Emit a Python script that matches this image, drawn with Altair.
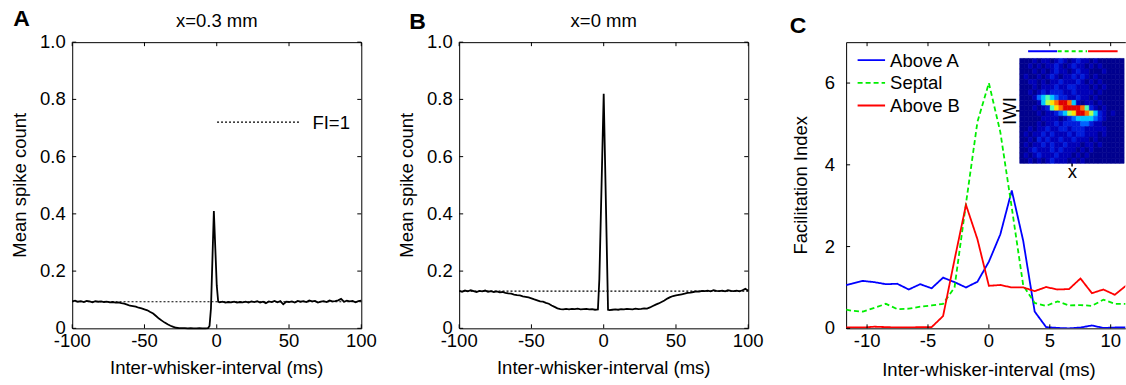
import altair as alt
import pandas as pd

FONT = "Liberation Sans"
FS = 18.5

# ---------------- data ----------------
A_x = list(range(-100, -6, 2)) + [-6, -5, -4, -3, -2, -1, 0, 1] + list(range(2, 101, 2))
A_y = ([0.094, 0.097, 0.093, 0.095, 0.092, 0.096, 0.094, 0.091, 0.095, 0.093, 0.094, 0.092,
        0.093, 0.091, 0.092, 0.090]
       + [0.091, 0.088, 0.086, 0.083, 0.079, 0.078, 0.076, 0.072, 0.070, 0.066, 0.063, 0.057,
          0.052, 0.043, 0.034, 0.027, 0.020, 0.014, 0.009, 0.005, 0.002, 0.001, 0.001, 0.001,
          0.000, 0.001, 0.000, 0.000, 0.001, 0.000, 0.000]
       + [0.001, 0.008, 0.07, 0.24, 0.41, 0.28, 0.15, 0.093]
       + [0.091, 0.093, 0.090, 0.092, 0.091, 0.093, 0.090, 0.092, 0.091, 0.093, 0.090, 0.094,
          0.092, 0.095, 0.090, 0.093, 0.088, 0.094, 0.092, 0.096, 0.091, 0.095, 0.084, 0.093,
          0.092, 0.094, 0.090, 0.096, 0.093, 0.095, 0.092, 0.097, 0.094, 0.096, 0.090, 0.093,
          0.095, 0.092, 0.097, 0.094, 0.095, 0.098, 0.103, 0.093, 0.097, 0.094, 0.096, 0.091,
          0.095, 0.097])
A_fi = 0.093

B_x = list(range(-100, -4, 2)) + [-4, -3, -2, -1, 0, 1, 2, 3] + list(range(4, 101, 2))
B_y = ([0.131, 0.128, 0.132, 0.129, 0.133, 0.130, 0.127, 0.131, 0.129, 0.132, 0.128, 0.130,
        0.127, 0.129, 0.126, 0.127]
       + [0.124, 0.122, 0.121, 0.118, 0.116, 0.115, 0.112, 0.110, 0.108, 0.105, 0.101, 0.098,
          0.094, 0.093, 0.089, 0.086, 0.080, 0.075, 0.070, 0.067, 0.066, 0.068, 0.066, 0.068,
          0.067, 0.069, 0.066, 0.067, 0.068, 0.066, 0.067, 0.065]
       + [0.066, 0.173, 0.389, 0.604, 0.82, 0.568, 0.317, 0.065]
       + [0.064, 0.065, 0.066, 0.065, 0.067, 0.066, 0.068, 0.067, 0.066, 0.069, 0.067, 0.068,
          0.070, 0.069, 0.073, 0.078, 0.083, 0.087, 0.092, 0.097, 0.104, 0.109, 0.113, 0.115,
          0.117, 0.119, 0.121, 0.124, 0.125, 0.127, 0.129, 0.128, 0.131, 0.130, 0.132, 0.129,
          0.133, 0.131, 0.130, 0.132, 0.129, 0.133, 0.131, 0.130, 0.132, 0.129, 0.133, 0.138,
          0.131])
B_fi = 0.13

# panel C: vertex positions (ms)
C_x = [-11.72, -11.28, -10.34, -9.40, -8.46, -7.52, -6.58, -5.64, -4.70, -3.76, -2.82, -1.88,
       -0.94, 0.0, 0.94, 1.88, 2.82, 3.76, 4.70, 5.64, 6.58, 7.52, 8.46, 9.40, 10.34, 11.28]
C_above_a = [1.06, 1.09, 1.16, 1.13, 1.08, 1.09, 0.95, 1.08, 0.98, 1.24, 1.13, 1.00, 1.14,
             1.63, 2.30, 3.37, 2.14, 0.41, 0.03, 0.01, 0.00, 0.02, 0.07, 0.01, 0.02, 0.02]
C_septal = [0.46, 0.43, 0.41, 0.50, 0.60, 0.47, 0.48, 0.53, 0.56, 0.60, 1.00, 3.05, 5.05,
            6.00, 4.80, 2.95, 1.05, 0.62, 0.55, 0.66, 0.56, 0.57, 0.55, 0.70, 0.60, 0.60]
C_above_b = [0.02, 0.02, 0.02, 0.04, 0.03, 0.02, 0.02, 0.03, 0.03, 0.30, 1.68, 3.02, 2.18,
             1.04, 1.06, 1.00, 1.00, 0.91, 1.01, 0.95, 0.96, 1.22, 0.86, 0.95, 0.82, 1.05]
C_names = ["Above A", "Septal", "Above B"]

AB_xticks = [-100, -50, 0, 50, 100]
AB_yticks = [0, 0.2, 0.4, 0.6, 0.8, 1.0]
C_xticks = [-10, -5, 0, 5, 10]
C_yticks = [0, 2, 4, 6]

# inset image (IWI x position), intensity levels 0-9, one string per row (top to bottom)
heat_rows = [
    "000101101210121101000000",
    "001010112101211010100000",
    "000101012110121100010000",
    "010010121011212101000000",
    "001101011211121010100000",
    "000101112112211101010000",
    "001012122211211110100000",
    "000134543221121101000000",
    "000014678998410110100000",
    "000101257899998521010000",
    "000010112346799864210100",
    "000001111012344443210000",
    "000010112122223321100000",
    "001011211221222111110000",
    "010112121112122111010000",
    "001021211211211101000000",
    "010112121121110110100000",
    "001211121211101010000000",
    "010121112111010100000000",
    "001010121110101000000000",
]
heat_levels = list(range(10))

assert len(A_x) == len(A_y) and len(B_x) == len(B_y)
assert len(C_x) == len(C_above_a) == len(C_septal) == len(C_above_b)
assert all(len(r) == 24 for r in heat_rows)

# ---------------- styles ----------------
W_AB = 289.4
W_C = 279.5
H = 286.5
TK = 4
JET = ["#00008e", "#0000b8", "#001cdc", "#0064ff", "#00c8ff", "#50ffb0", "#b0ff50",
       "#ffe000", "#ff7000", "#e00000"]
C_COLORS = ["#0000ff", "#00ee00", "#ff0000"]
C_DASH = [[1, 0], [5, 3], [1, 0]]


def text_layer(s, x, y, size=FS, weight="normal", align="left", baseline="alphabetic", angle=0):
    kw = dict(font=FONT, fontSize=size, fontWeight=weight, align=align, baseline=baseline,
              color="black")
    if angle:
        kw["angle"] = angle
    return alt.Chart(pd.DataFrame({"s": [s]})).mark_text(**kw).encode(
        text="s:N", x=alt.value(x), y=alt.value(y))


def frame_layers(xsc, ysc, xt, xlab, yt, ylab, W, right, ylab_pad, ytitle, ytitle_x,
                 xlab_y, xtitle_x, xtitle_y):
    """Inward ticks, tick labels and axis titles (drawn through the panel scales)."""
    dx = pd.DataFrame({"t": xt, "lab": xlab})
    dy = pd.DataFrame({"t": yt, "lab": ylab})
    rule = dict(color="black", strokeWidth=1)
    layers = [
        alt.Chart(dx).mark_rule(**rule).encode(
            x=alt.X("t:Q", scale=xsc, axis=None), y=alt.value(H), y2=alt.value(H - TK)),
        alt.Chart(dx).mark_rule(**rule).encode(
            x=alt.X("t:Q", scale=xsc, axis=None), y=alt.value(0), y2=alt.value(TK)),
        alt.Chart(dy).mark_rule(**rule).encode(
            y=alt.Y("t:Q", scale=ysc, axis=None), x=alt.value(0), x2=alt.value(TK)),
        alt.Chart(dx).mark_text(font=FONT, fontSize=FS, align="center", baseline="alphabetic",
                                color="black").encode(
            x=alt.X("t:Q", scale=xsc, axis=None), y=alt.value(xlab_y), text="lab:N"),
        alt.Chart(dy).mark_text(font=FONT, fontSize=FS, align="right", baseline="middle",
                                color="black").encode(
            y=alt.Y("t:Q", scale=ysc, axis=None), x=alt.value(-ylab_pad), text="lab:N"),
        text_layer("Inter-whisker-interval (ms)", xtitle_x, xtitle_y, align="center"),
        text_layer(ytitle, ytitle_x, H / 2, align="center", angle=270),
    ]
    if right:
        layers.append(alt.Chart(dy).mark_rule(**rule).encode(
            y=alt.Y("t:Q", scale=ysc, axis=None), x=alt.value(W), x2=alt.value(W - TK)))
    return layers


AB_xlab = [str(v) for v in AB_xticks]
AB_ylab = ["0" if v == 0 else f"{v:.1f}" for v in AB_yticks]


def panel_ab(xs, ys, fi, title, let, lx, ly, fi_legend):
    xsc = alt.Scale(domain=[-100, 100], nice=False, zero=False)
    ysc = alt.Scale(domain=[0, 1], nice=False, zero=False)
    df = pd.DataFrame({"x": xs, "y": ys})
    line = alt.Chart(df).mark_line(color="black", strokeWidth=1.8).encode(
        x=alt.X("x:Q", scale=xsc, axis=None),
        y=alt.Y("y:Q", scale=ysc, axis=None))
    fi_rule = alt.Chart(pd.DataFrame({"fi": [fi]})).mark_rule(
        color="black", strokeDash=[2, 2], strokeWidth=1.2).encode(
        y=alt.Y("fi:Q", scale=ysc, axis=None))
    layers = [fi_rule, line] + frame_layers(
        xsc, ysc, AB_xticks, AB_xlab, AB_yticks, AB_ylab, W_AB, True, 6.5,
        "Mean spike count", -46, H + 19, W_AB / 2, H + 46)
    layers.append(text_layer(let, lx, ly, size=23, weight="bold"))
    layers.append(text_layer(title, W_AB / 2, -15.3, align="center"))
    if fi_legend:
        lg = pd.DataFrame({"s": ["FI=1"]})
        layers.append(alt.Chart(lg).mark_rule(color="black", strokeDash=[2, 2], strokeWidth=1.2)
                      .encode(x=alt.value(145), x2=alt.value(227), y=alt.value(80)))
        layers.append(text_layer("FI=1", 240.5, 80.5, baseline="middle"))
    return alt.layer(*layers).properties(
        width=W_AB, height=H, view=alt.ViewBackground(stroke="black", strokeWidth=1))


pa = panel_ab(A_x, A_y, A_fi, "x=0.3 mm", "A", -59, -16, True)
pb = panel_ab(B_x, B_y, B_fi, "x=0 mm", "B", -50, -12.7, False)

# ---------------- panel C ----------------
xsc_c = alt.Scale(domain=[-11.72, 11.2], nice=False, zero=False)
ysc_c = alt.Scale(domain=[0, 7], nice=False, zero=False)
c_layers = []
for i, (name, vals) in enumerate(zip(C_names, [C_above_a, C_septal, C_above_b])):
    d = pd.DataFrame({"x": C_x, "y": vals, "series": name})
    c_layers.append(alt.Chart(d).mark_line(color=C_COLORS[i], strokeDash=C_DASH[i],
                                           strokeWidth=1.8, clip=True).encode(
        x=alt.X("x:Q", scale=xsc_c, axis=None), y=alt.Y("y:Q", scale=ysc_c, axis=None)))
c_layers += frame_layers(xsc_c, ysc_c, C_xticks, [str(v) for v in C_xticks], C_yticks,
                         [str(v) for v in C_yticks], W_C, False, 11, "Facilitation Index",
                         -39.5, H + 19, 143, H + 48)
c_layers.append(text_layer("C", -56.5, -8.7, size=23, weight="bold"))

# legend
for i, name in enumerate(C_names):
    ld = pd.DataFrame({"s": [name]})
    yy = 18 + 22.7 * i
    c_layers.append(alt.Chart(ld).mark_rule(color=C_COLORS[i], strokeDash=C_DASH[i],
                                            strokeWidth=1.8)
                    .encode(x=alt.value(11.5), x2=alt.value(39), y=alt.value(yy)))
    c_layers.append(text_layer(name, 44, yy + 0.5, baseline="middle"))

# inset annotations: colour strip, IWI / x labels and their ticks
seg = [(182.2, 211.2), (211.8, 241.2), (242.2, 271.8)]
for i, (a, b) in enumerate(seg):
    c_layers.append(alt.Chart(pd.DataFrame({"s": [C_names[i]]})).mark_rule(
        color=C_COLORS[i], strokeDash=[4, 3] if i == 1 else [1, 0], strokeWidth=2)
        .encode(x=alt.value(a), x2=alt.value(b), y=alt.value(9)))
c_layers.append(text_layer("IWI", 164.5, 69, align="center", baseline="middle", angle=270))
c_layers.append(text_layer("x", 226.5, 136, align="center"))
c_layers.append(alt.Chart(pd.DataFrame({"s": ["IWI"]})).mark_rule(color="black", strokeWidth=1.5)
                .encode(x=alt.value(170), x2=alt.value(174), y=alt.value(68.8)))
c_layers.append(alt.Chart(pd.DataFrame({"s": ["x"]})).mark_rule(color="black", strokeWidth=1.5)
                .encode(x=alt.value(226.2), y=alt.value(121), y2=alt.value(124.5)))

main_c = alt.layer(*c_layers)

cells = []
for r, row in enumerate(heat_rows):
    for c, ch in enumerate(row):
        cells.append({"c": c, "c2": c + 1, "r": r, "r2": r + 1, "v": int(ch)})
heat_df = pd.DataFrame(cells)
heat_scale = alt.Scale(domain=heat_levels, range=JET)
heat = alt.Chart(heat_df).mark_rect(strokeWidth=0.6).encode(
    x=alt.X("c:Q", scale=alt.Scale(domain=[0, 24], range=[173.8, 278.3], nice=False, zero=False),
            axis=None),
    x2="c2:Q",
    y=alt.Y("r:Q", scale=alt.Scale(domain=[0, 20], range=[16.3, 121.3], nice=False, zero=False),
            axis=None),
    y2="r2:Q",
    fill=alt.Fill("v:Q", scale=heat_scale, legend=None),
    stroke=alt.Stroke("v:Q", scale=heat_scale, legend=None),
)

# box on top, left and bottom only (right edge is cut off in the figure)
pc = alt.layer(main_c, heat).resolve_scale(x="independent", y="independent").properties(
    width=W_C, height=H,
    view=alt.ViewBackground(stroke="black", strokeWidth=1,
                            strokeDash=[W_C, H, W_C + H, 2]))

chart = alt.hconcat(pa, pb, pc, spacing=97.4, bounds="flush").properties(
    padding={"left": 10.3, "top": 7, "right": 0, "bottom": 0},
    background="white",
).configure_view(stroke=None).configure_text(font=FONT)

chart.save("out.html", embed_options={"renderer": "svg", "actions": False})
